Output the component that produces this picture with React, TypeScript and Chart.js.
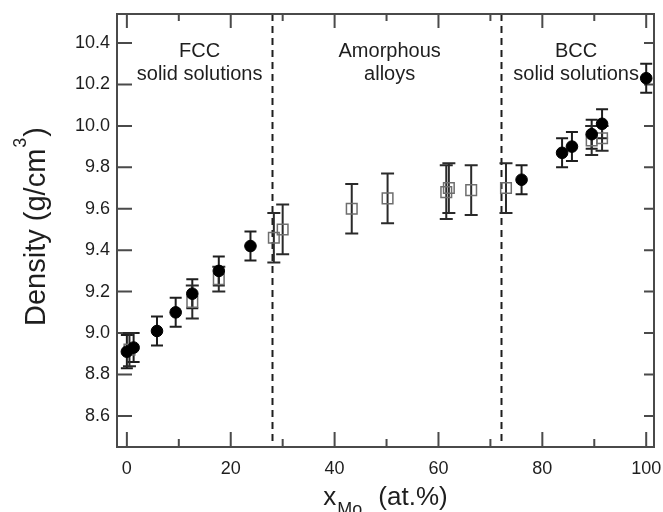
import React, { useEffect, useRef } from 'react';
import { Chart, registerables } from 'chart.js';

Chart.register(...registerables);

// ---- Data ----
const xTickValues = [0, 20, 40, 60, 80, 100];
const xMinorTickValues = [10, 30, 50, 70, 90];
const yTickValues = [8.6, 8.8, 9.0, 9.2, 9.4, 9.6, 9.8, 10.0, 10.2, 10.4];

const phaseBoundaries = [28, 72];
const regionTitles = ['FCC', 'Amorphous', 'BCC'];
const regionSubtitles = ['solid solutions', 'alloys', 'solid solutions'];
const regionCenters = [14, 50.6, 86.5];

// filled circles
const circleX = [0, 1.3, 5.8, 9.4, 12.6, 17.7, 23.8, 76, 83.8, 85.7, 89.5, 91.5, 100];
const circleY = [8.91, 8.93, 9.01, 9.1, 9.19, 9.3, 9.42, 9.74, 9.87, 9.9, 9.96, 10.01, 10.23];
const circleErr = [0.08, 0.07, 0.07, 0.07, 0.07, 0.07, 0.07, 0.07, 0.07, 0.07, 0.07, 0.07, 0.07];

// open squares
const squareX = [0.5, 12.6, 17.7, 28.3, 30, 43.3, 50.2, 61.5, 62, 66.3, 73, 89.5, 91.5];
const squareY = [8.92, 9.15, 9.26, 9.46, 9.5, 9.6, 9.65, 9.68, 9.7, 9.69, 9.7, 9.93, 9.94];
const squareErr = [0.08, 0.08, 0.06, 0.12, 0.12, 0.12, 0.12, 0.13, 0.12, 0.12, 0.12, 0.07, 0.06];

const X_MIN = -1.9;
const X_MAX = 101.5;
const Y_MIN = 8.45;
const Y_MAX = 10.54;

const FONT = '"Liberation Sans", Arial, Helvetica, sans-serif';
const AXIS_COLOR = '#4a4a4a';
const INK = '#1e1e1e';

const errorBarPlugin = {
  id: 'errorBars',
  beforeDatasetsDraw(chart: any) {
    const { ctx } = chart;
    const xs = chart.scales.x;
    const ys = chart.scales.y;
    chart.data.datasets.forEach((ds: any) => {
      const errs: number[] = ds.errors || [];
      ctx.save();
      ctx.strokeStyle = ds.errorColor || INK;
      ctx.lineWidth = 2;
      ds.data.forEach((p: any, i: number) => {
        const e = errs[i];
        if (!e) return;
        const px = xs.getPixelForValue(p.x);
        const top = ys.getPixelForValue(p.y + e);
        const bot = ys.getPixelForValue(p.y - e);
        const cw = ds.capHalf || 6;
        ctx.beginPath();
        ctx.moveTo(px, top);
        ctx.lineTo(px, bot);
        ctx.moveTo(px - cw, top);
        ctx.lineTo(px + cw, top);
        ctx.moveTo(px - cw, bot);
        ctx.lineTo(px + cw, bot);
        ctx.stroke();
      });
      ctx.restore();
    });
  },
};

const framePlugin = {
  id: 'frame',
  beforeDatasetsDraw(chart: any) {
    const { ctx, chartArea } = chart;
    const { left, right, top, bottom } = chartArea;
    const xs = chart.scales.x;
    const ys = chart.scales.y;
    ctx.save();
    // dashed phase boundaries
    ctx.strokeStyle = INK;
    ctx.lineWidth = 2;
    ctx.setLineDash([7, 5]);
    phaseBoundaries.forEach((b) => {
      const px = Math.round(xs.getPixelForValue(b)) + 0.5;
      ctx.beginPath();
      ctx.moveTo(px, top);
      ctx.lineTo(px, bottom);
      ctx.stroke();
    });
    ctx.setLineDash([]);
    // ticks
    ctx.strokeStyle = AXIS_COLOR;
    ctx.lineWidth = 2;
    ctx.beginPath();
    xTickValues.forEach((v) => {
      const px = xs.getPixelForValue(v);
      ctx.moveTo(px, bottom);
      ctx.lineTo(px, bottom - 15);
      ctx.moveTo(px, top);
      ctx.lineTo(px, top + 14);
    });
    xMinorTickValues.forEach((v) => {
      const px = xs.getPixelForValue(v);
      ctx.moveTo(px, bottom);
      ctx.lineTo(px, bottom - 8);
      ctx.moveTo(px, top);
      ctx.lineTo(px, top + 7);
    });
    yTickValues.forEach((v) => {
      const py = ys.getPixelForValue(v);
      ctx.moveTo(left, py);
      ctx.lineTo(left + 15, py);
      ctx.moveTo(right, py);
      ctx.lineTo(right - 10, py);
    });
    ctx.stroke();
    // frame
    ctx.strokeRect(left, top, right - left, bottom - top);
    // region labels
    ctx.fillStyle = INK;
    ctx.font = `20px ${FONT}`;
    ctx.textAlign = 'center';
    ctx.textBaseline = 'middle';
    regionTitles.forEach((t, i) => {
      const px = xs.getPixelForValue(regionCenters[i]);
      ctx.fillText(t, px, top + 37);
      ctx.fillText(regionSubtitles[i], px, top + 60);
    });
    ctx.restore();
  },
  afterDraw(chart: any) {
    const { ctx, chartArea } = chart;
    ctx.save();
    ctx.fillStyle = INK;
    ctx.textBaseline = 'alphabetic';
    // Y title: Density (g/cm^3)
    const yMid = (chartArea.top + chartArea.bottom) / 2 - 4;
    ctx.translate(45, yMid);
    ctx.rotate(-Math.PI / 2);
    const mainFont = `29px ${FONT}`;
    const supFont = `18px ${FONT}`;
    ctx.font = mainFont;
    const p1 = 'Density (g/cm';
    const w1 = ctx.measureText(p1).width;
    const w3 = ctx.measureText(')').width;
    ctx.font = supFont;
    const w2 = ctx.measureText('3').width + 2;
    const total = w1 + w2 + w3;
    let x0 = -total / 2;
    ctx.font = mainFont;
    ctx.textAlign = 'left';
    ctx.fillText(p1, x0, 0);
    ctx.font = supFont;
    ctx.fillText('3', x0 + w1 + 1, -19);
    ctx.font = mainFont;
    ctx.fillText(')', x0 + w1 + w2, 0);
    ctx.restore();

    // X title: x_Mo (at.%)
    ctx.save();
    ctx.fillStyle = INK;
    ctx.textBaseline = 'alphabetic';
    ctx.textAlign = 'left';
    const xf = `26px ${FONT}`;
    const sf = `18px ${FONT}`;
    ctx.font = xf;
    const wx = ctx.measureText('x').width;
    const wp = ctx.measureText('(at.%)').width;
    ctx.font = sf;
    const wm = ctx.measureText('Mo').width;
    const gap = 16;
    const tot = wx + 1 + wm + gap + wp;
    const cx = (chartArea.left + chartArea.right) / 2;
    const base = 505;
    let sx = cx - tot / 2;
    ctx.font = xf;
    ctx.fillText('x', sx, base);
    ctx.font = sf;
    ctx.fillText('Mo', sx + wx + 1, base + 10);
    ctx.font = xf;
    ctx.fillText('(at.%)', sx + wx + 1 + wm + gap, base);
    ctx.restore();
  },
};

export default function App() {
  const canvasRef = useRef<HTMLCanvasElement | null>(null);

  useEffect(() => {
    const canvas = canvasRef.current;
    if (!canvas) return;
    const chart = new Chart(canvas, {
      type: 'scatter',
      data: {
        datasets: [
          {
            label: 'Crystalline',
            data: circleX.map((x, i) => ({ x, y: circleY[i] })),
            errors: circleErr,
            capHalf: 6,
            pointStyle: 'circle',
            radius: 5.8,
            backgroundColor: '#000000',
            borderColor: '#000000',
            borderWidth: 1,
            order: 1,
          } as any,
          {
            label: 'Amorphous',
            data: squareX.map((x, i) => ({ x, y: squareY[i] })),
            errors: squareErr,
            capHalf: 6.5,
            errorColor: '#2a2a2a',
            pointStyle: 'rect',
            radius: 7.5,
            backgroundColor: 'rgba(0,0,0,0)',
            borderColor: '#6e6e6e',
            borderWidth: 1.5,
            order: 2,
          } as any,
        ],
      },
      options: {
        animation: false,
        responsive: false,
        layout: { padding: { top: 14, right: 8, left: 0, bottom: 0 } },
        plugins: {
          legend: { display: false },
          tooltip: { enabled: false },
        },
        scales: {
          x: {
            type: 'linear',
            min: X_MIN,
            max: X_MAX,
            grid: { display: false, drawTicks: false },
            border: { display: false },
            afterBuildTicks: (scale: any) => {
              scale.ticks = xTickValues.map((v) => ({ value: v }));
            },
            afterFit: (scale: any) => {
              scale.height = 65;
              scale.paddingLeft = 0;
              scale.paddingRight = 0;
            },
            ticks: {
              padding: 11,
              color: INK,
              font: { family: FONT, size: 18 },
              callback: (v: any) => String(v),
              maxRotation: 0,
              autoSkip: false,
            },
          },
          y: {
            type: 'linear',
            min: Y_MIN,
            max: Y_MAX,
            grid: { display: false, drawTicks: false },
            border: { display: false },
            afterBuildTicks: (scale: any) => {
              scale.ticks = yTickValues.map((v) => ({ value: v }));
            },
            afterFit: (scale: any) => {
              scale.width = 117;
              scale.paddingTop = 0;
              scale.paddingBottom = 0;
            },
            ticks: {
              padding: 7,
              color: INK,
              font: { family: FONT, size: 18 },
              callback: (v: any) => Number(v).toFixed(1),
              autoSkip: false,
            },
          },
        },
      } as any,
      plugins: [framePlugin, errorBarPlugin],
    });
    return () => chart.destroy();
  }, []);

  return (
    <div style={{ position: 'fixed', left: 0, top: 0, width: 663, height: 512, background: '#ffffff' }}>
      <canvas ref={canvasRef} width={663} height={512} style={{ display: 'block' }} />
    </div>
  );
}
